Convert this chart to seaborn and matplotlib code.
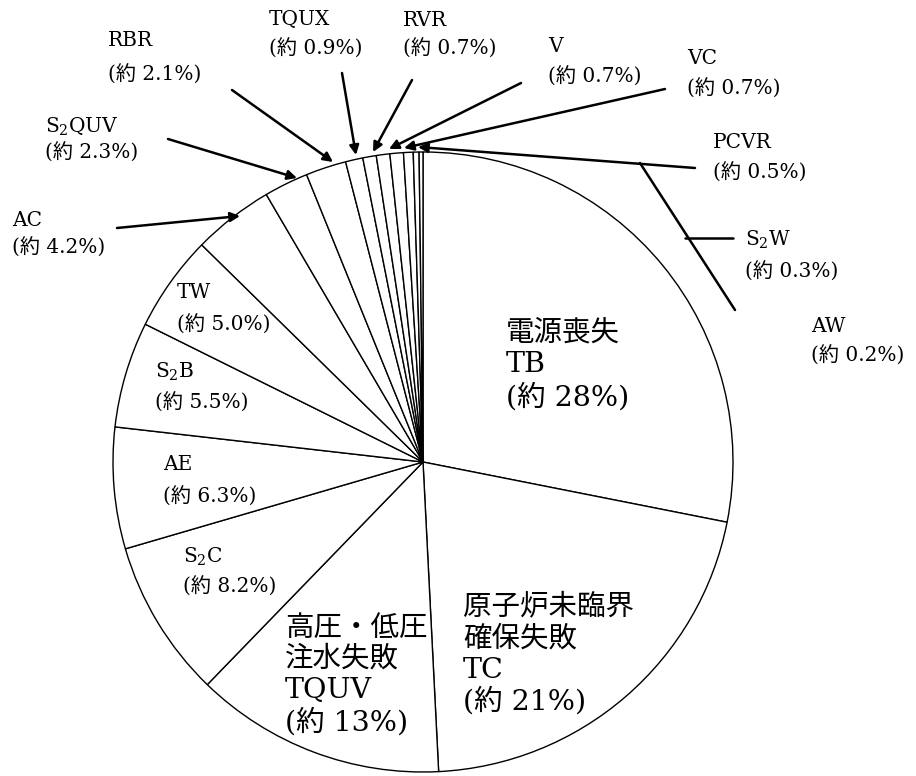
import matplotlib
matplotlib.use("Agg")
import matplotlib.pyplot as plt
import seaborn as sns

sns.set_theme(style="white")
plt.rcParams['font.family'] = ['DejaVu Serif', 'Noto Sans CJK JP']
plt.rcParams['mathtext.fontset'] = 'dejavuserif'

# ---- data ----
categories = ["TB", "TC", "TQUV", "S2C", "AE", "S2B", "TW", "AC", "S2QUV", "RBR",
              "TQUX", "RVR", "V", "VC", "PCVR", "S2W", "AW"]
values = [28, 21, 13, 8.2, 6.3, 5.5, 5.0, 4.2, 2.3, 2.1, 0.9, 0.7, 0.7, 0.7, 0.5, 0.3, 0.2]
big_labels = {
    "TB": ["電源喪失", "TB", "(約 28%)"],
    "TC": ["原子炉未臨界", "確保失敗", "TC", "(約 21%)"],
    "TQUV": ["高圧・低圧", "注水失敗", "TQUV", "(約 13%)"],
}
names = {"S2C": r"S$_{2}$C", "S2B": r"S$_{2}$B", "S2QUV": r"S$_{2}$QUV", "S2W": r"S$_{2}$W"}
pct_text = {"S2C": "(約 8.2%)", "AE": "(約 6.3%)", "S2B": "(約 5.5%)", "TW": "(約 5.0%)",
            "AC": "(約 4.2%)", "S2QUV": "(約 2.3%)", "RBR": "(約 2.1%)", "TQUX": "(約 0.9%)",
            "RVR": "(約 0.7%)", "V": "(約 0.7%)", "VC": "(約 0.7%)", "PCVR": "(約 0.5%)",
            "S2W": "(約 0.3%)", "AW": "(約 0.2%)"}

W, H = 916, 776
fig = plt.figure(figsize=(W / 100, H / 100), dpi=100)
ax = fig.add_axes([0, 0, 1, 1])

def Y(y):
    return H - y

ax.pie(values, startangle=90, counterclock=False, radius=310, center=(423, Y(462)),
       wedgeprops=dict(facecolor="white", edgecolor="black", linewidth=1.0))
ax.set_xlim(0, W)
ax.set_ylim(0, H)
ax.set_aspect("auto")
ax.axis("off")

# big labels (inside)
big_pos = {"TB": (506, [333, 365, 397]),
           "TC": (463, [607, 639, 670, 701]),
           "TQUV": (285, [628, 659, 690, 722])}
for k, (x, ys) in big_pos.items():
    for txt, y in zip(big_labels[k], ys):
        ax.text(x, Y(y), txt, fontsize=20.5, ha="left", va="center", color="black")

# small labels
small_pos = {"S2C": (183, 557, 587), "AE": (163, 465, 497), "S2B": (155, 372, 403),
             "TW": (177, 293, 325),
             "AC": (12, 220, 248), "S2QUV": (45, 127, 153), "RBR": (108, 41, 75),
             "TQUX": (269, 20, 49), "RVR": (403, 20, 49), "V": (548, 46, 77),
             "VC": (687, 58, 89), "PCVR": (713, 142, 173), "S2W": (745, 240, 272),
             "AW": (811, 327, 356)}
for k, (x, y1, y2) in small_pos.items():
    ax.text(x, Y(y1), names.get(k, k), fontsize=14.5, ha="left", va="center", color="black")
    ax.text(x, Y(y2), pct_text[k], fontsize=14.5, ha="left", va="center", color="black")

# leader arrows
arrows = [((117, 228), (240, 216)),   # AC
          ((168, 139), (297, 178)),   # S2QUV
          ((232, 90), (333, 162)),    # RBR
          ((342, 73), (356, 155)),    # TQUX
          ((412, 80), (373, 152)),    # RVR
          ((521, 83), (389, 149)),    # V
          ((665, 89), (404, 148)),    # VC
          ((695, 168), (418, 147))]   # PCVR
for (x0, y0), (x1, y1) in arrows:
    ax.annotate("", xy=(x1, Y(y1)), xytext=(x0, Y(y0)),
                arrowprops=dict(arrowstyle="-|>", color="black", lw=1.8,
                                mutation_scale=14, shrinkA=0, shrinkB=0))

# plain leader lines
ax.plot([685, 733], [Y(238), Y(238)], color="black", lw=1.8)   # S2W
ax.plot([640, 735], [Y(163), Y(310)], color="black", lw=1.8)   # AW

fig.savefig("out.png", dpi=100, facecolor="white")
